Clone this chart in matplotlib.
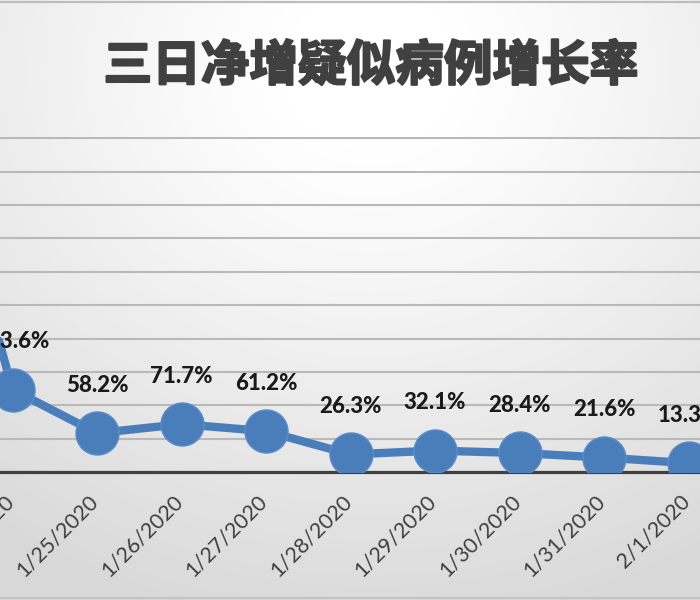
import numpy as np
import matplotlib
matplotlib.use("Agg")
import matplotlib.pyplot as plt
from matplotlib.lines import Line2D
from matplotlib.transforms import ScaledTranslation
import matplotlib.patheffects as pe

# ---- data ----
dates = ['1/23/2020', '1/24/2020', '1/25/2020', '1/26/2020', '1/27/2020',
         '1/28/2020', '1/29/2020', '1/30/2020', '1/31/2020', '2/1/2020', '2/2/2020']
growth = [580.0, 123.6, 58.2, 71.7, 61.2, 26.3, 32.1, 28.4, 21.6, 13.3, np.nan]
point_labels = [None, '123.6%', '58.2%', '71.7%', '61.2%', '26.3%', '32.1%',
                '28.4%', '21.6%', '13.3%', None]
title = '三日净增疑似病例增长率'
y_ticks = list(range(0, 501, 50))

W, H = 700, 600
fig = plt.figure(figsize=(7, 6), dpi=100)

# background radial gradient
bg = fig.add_axes([0, 0, 1, 1])
yy, xx = np.mgrid[0:H, 0:W]
d = np.sqrt((xx - 370.0) ** 2 + ((yy - 70.0) * 1.15) ** 2)
t = np.clip((d - 90.0) / 560.0, 0, 1) ** 1.1
val = 1.0 - 0.15 * t
bg.imshow(np.dstack([val, val, val]), extent=[0, W, H, 0], aspect='auto')
bg.set_xlim(0, W)
bg.set_ylim(H, 0)
bg.axis('off')

# frame lines (top & bottom of the chart frame)
fig.add_artist(Line2D([0, 1], [1 - 1.5 / H, 1 - 1.5 / H], color='#bdbdbd', lw=1.6))
fig.add_artist(Line2D([0, 1], [1 - 597.5 / H, 1 - 597.5 / H], color='#c4c4c4', lw=1.6))

# main axes extends beyond the figure (the reference is a crop)
L = -114.25 / W
AW = 929.5 / W
B = 1 - 472.0 / H
AH = 335.0 / H
ax = fig.add_axes([L, B, AW, AH])
ax.patch.set_alpha(0)

x = np.arange(len(dates))
blue = '#4a7ebb'
ax.plot(x, growth, color=blue, lw=6.0, marker='o', markersize=31,
        markerfacecolor=blue, markeredgecolor='#5b8ccc', markeredgewidth=1.0,
        solid_capstyle='round', zorder=3)

for xi, v, lab in zip(x, growth, point_labels):
    if lab is None or np.isnan(v):
        continue
    ax.annotate(lab, (xi, v), xytext=(0, 34.5), textcoords='offset points',
                ha='center', va='center', fontsize=16, fontweight='black',
                family=['Lato', 'DejaVu Sans'], color='#1a1a1a', zorder=5,
                annotation_clip=False)

ax.set_xlim(-0.5, len(dates) - 0.5)
ax.set_ylim(0, 502)
ax.set_yticks(y_ticks)
ax.set_yticklabels([])
ax.yaxis.grid(True, color='#b9b9b9', lw=1.5)
ax.set_axisbelow(True)
ax.set_xticks(x)
ax.set_xticklabels(dates, rotation=45, ha='right', va='top',
                   rotation_mode='default',
                   fontsize=15.5, family=['Lato', 'DejaVu Sans'], color='#404040')
ax.tick_params(axis='both', length=0)
ax.tick_params(axis='x', pad=14)
shift = ScaledTranslation(5 / 100, 0, fig.dpi_scale_trans)
for lbl in ax.get_xticklabels():
    lbl.set_transform(lbl.get_transform() + shift)
for s in ['top', 'left', 'right']:
    ax.spines[s].set_visible(False)
ax.spines['bottom'].set_color('#404040')
ax.spines['bottom'].set_linewidth(2.3)
ax.spines['bottom'].set_zorder(2.5)

fig.text(371.0 / W, 1 - 66.0 / H, title, ha='center', va='center',
         fontsize=35, fontweight='heavy', color='#404040',
         family=['Noto Sans CJK SC', 'DejaVu Sans'],
         path_effects=[pe.withStroke(linewidth=1.6, foreground='#404040')])

fig.savefig('out.png', dpi=100)
